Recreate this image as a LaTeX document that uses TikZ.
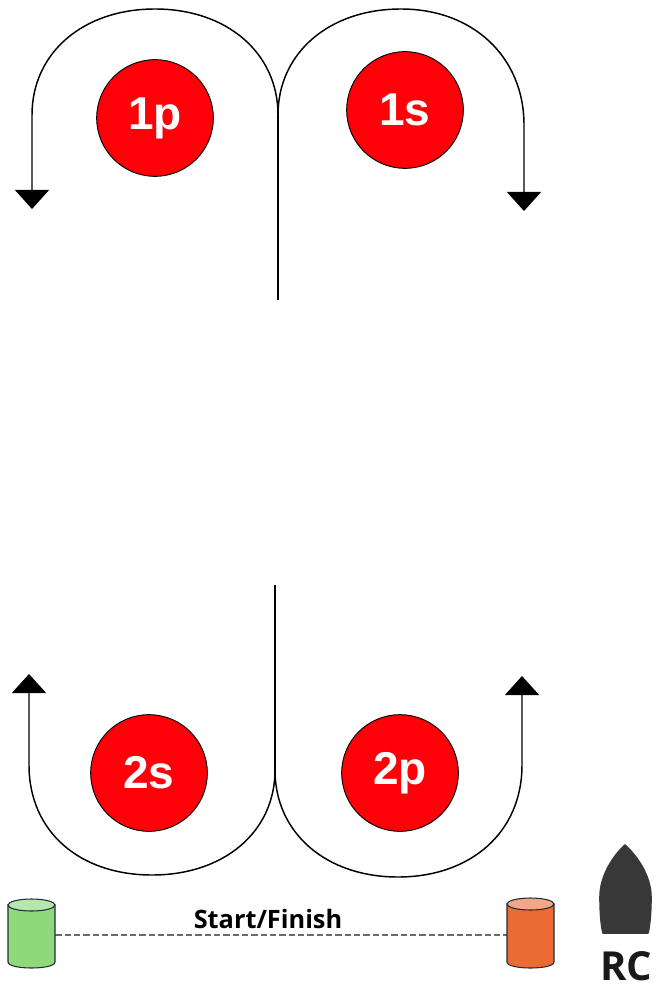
\documentclass[tikz,border=0pt]{standalone}
\usepackage{fontspec}
\setmainfont{Liberation Sans}
\newfontfamily\labelfont{Open Sans}
\usetikzlibrary{arrows.meta}
\definecolor{markred}{HTML}{FF0008}
\definecolor{greenbody}{HTML}{8FD97A}
\definecolor{greentop}{HTML}{B9E6AC}
\definecolor{orangebody}{HTML}{EC6B35}
\definecolor{orangetop}{HTML}{F3A78A}
\definecolor{edgeblue}{HTML}{1F2D3D}
\definecolor{boatgrey}{HTML}{383838}
\tikzset{
  mark node/.style={circle,draw=black,line width=0.7pt,fill=markred,minimum size=87.5pt,inner sep=0pt,text=white,font=\fontsize{34.5}{34.5}\selectfont\bfseries},
  course/.style={line width=1.1pt,black},
  course arrow/.style={course,-{Triangle[width=25.5pt,length=14.25pt]}},
  centre line/.style={line width=1.5pt,black},
  buoy anchor/.style={rectangle,minimum width=35.25pt,minimum height=52pt,inner sep=0pt},
  buoy line/.style={draw=edgeblue,line width=0.8pt},
  start line/.style={dash pattern=on 4.7pt off 2.3pt,line width=1.1pt,draw=black!58}
}
\begin{document}
\begin{tikzpicture}[x=0.75pt,y=-0.75pt]
\useasboundingbox (0,0) rectangle (664,987);
% marks
\node[mark node] (m1p) at (155,118) {1p};
\node[mark node] (m1s) at (405,110) {1s};
\node[mark node] (m2s) at (149,773) {2s};
\node[mark node] (m2p) at (400,773) {2p};
% course
\coordinate (topstem) at (278,300);
\coordinate (topjoin) at (278,115);
\coordinate (lefttip) at (32,209);
\coordinate (righttip) at (524,211);
\coordinate (botstem) at (275,585);
\coordinate (botjoin) at (275,770);
\coordinate (blefttip) at (29,674);
\coordinate (brighttip) at (522,676);
\draw[centre line] (topstem) -- (topjoin);
\draw[course arrow] (topjoin) .. controls (278,53) and (227,9) .. (155,9)
   .. controls (83,9) and (32,53) .. (32,115) -- (lefttip);
\draw[course arrow] (topjoin) .. controls (278,53) and (329,9) .. (401,9)
   .. controls (473,9) and (524,57) .. (524,125) -- (righttip);
\draw[centre line] (botstem) -- (botjoin);
\draw[course arrow] (botjoin) .. controls (275,832) and (224,875) .. (152,875)
   .. controls (80,875) and (29,832) .. (29,765) -- (blefttip);
\draw[course arrow] (botjoin) .. controls (275,833) and (326,877) .. (398,877)
   .. controls (470,877) and (522,833) .. (522,765) -- (brighttip);
% buoys
\node[buoy anchor] (green) at (31.5,935) {};
\node[buoy anchor] (orange) at (530.5,935) {};
\draw[start line] (green) -- (orange);
\path[buoy line,fill=greenbody] (8,905) -- (8,962) .. controls (8,970) and (55,970) .. (55,962) -- (55,905) -- cycle;
\path[buoy line,fill=greentop] (31.5,905) ellipse [x radius=23.5,y radius=6];
\path[buoy line,fill=orangebody] (507,904) -- (507,962) .. controls (507,970) and (554,970) .. (554,962) -- (554,904) -- cycle;
\path[buoy line,fill=orangetop] (530.5,904) ellipse [x radius=23.5,y radius=6];
\node[font=\labelfont\fontsize{19}{19}\selectfont\bfseries,inner sep=0pt] (startlabel) at (268,919) {Start/Finish};
% committee boat
\path[fill=boatgrey,draw=boatgrey,line width=1.2pt,line join=round] (625,845) .. controls (636,855) and (651,875) .. (651,897)
  .. controls (651,912) and (650,925) .. (648,933) -- (603,933)
  .. controls (601,925) and (600,912) .. (600,897)
  .. controls (600,875) and (614,855) .. (625,845) -- cycle;
\node[font=\labelfont\fontsize{30}{30}\selectfont\bfseries,inner sep=0pt,text=black!90] (rc) at (626,966) {RC};
\end{tikzpicture}
\end{document}
